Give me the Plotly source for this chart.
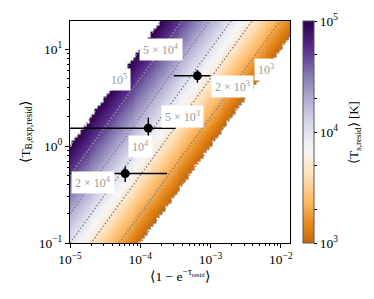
import numpy as np
import plotly.graph_objects as go

# ---------------- data ----------------
levels = [1e3, 2e3, 5e3, 1e4, 2e4, 5e4, 1e5]
level_labels = ["10<sup>3</sup>", "2 × 10<sup>3</sup>", "5 × 10<sup>3</sup>", "10<sup>4</sup>",
                "2 × 10<sup>4</sup>", "5 × 10<sup>4</sup>", "10<sup>5</sup>"]
label_y = [6.1, 4.1, 2.0, 1.0, 0.42, 9.8, 4.9]

pt_x = [6.5e-4, 1.3e-4, 6.1e-5]
pt_x_err = [3.5e-4, 1.9e-4, 1.8e-4]
pt_y = [5.3, 1.53, 0.52]
pt_y_err = [0.8, 0.43, 0.095]

Ts_min, Ts_max = 1e3, 1e5
x_lim = [1e-5, 1.35e-2]
y_lim = [0.1, 19.5]

x_ticks = [1e-5, 1e-4, 1e-3, 1e-2]
x_ticktext = ["10<sup>−5</sup>", "10<sup>−4</sup>", "10<sup>−3</sup>", "10<sup>−2</sup>"]
y_ticks = [0.1, 1, 10]
y_ticktext = ["10<sup>−1</sup>", "10<sup>0</sup>", "10<sup>1</sup>"]
cb_ticks = [1e3, 2e3, 5e3, 1e4, 2e4, 5e4, 1e5]
cb_ticktext = ["10<sup>3</sup>", "", "", "10<sup>4</sup>", "", "", "10<sup>5</sup>"]

# ------------- colour scale (PuOr, truncated on the orange end) -------------
puor = [(127, 59, 8), (179, 88, 6), (224, 130, 20), (253, 184, 99), (254, 224, 182),
        (247, 247, 247), (216, 218, 235), (178, 171, 210), (128, 115, 172), (84, 39, 136), (45, 0, 75)]
def puor_at(t):
    f = t * 10
    i = min(int(f), 9)
    r = f - i
    c = [puor[i][k] + (puor[i + 1][k] - puor[i][k]) * r for k in range(3)]
    return "rgb(%d,%d,%d)" % tuple(round(v) for v in c)
a0 = 0.14
cscale = [[p, puor_at(a0 + (1 - a0) * p)] for p in np.linspace(0, 1, 41)]

# ------------- grid -------------
gx = np.logspace(np.log10(x_lim[0]), np.log10(x_lim[1]), 76)
gy = np.logspace(np.log10(y_lim[0]), np.log10(y_lim[1]), 76)
Ts = gy[:, None] / gx[None, :]
z = np.log10(Ts)
z[(Ts < Ts_min) | (Ts > Ts_max)] = np.nan

FONT = "Liberation Serif, Times New Roman, serif"
TICK = 13.5
fig = go.Figure()
fig.add_trace(go.Heatmap(
    x=gx, y=gy, z=z, colorscale=cscale, zmin=np.log10(Ts_min), zmax=np.log10(Ts_max),
    hoverinfo="skip",
    colorbar=dict(x=1.059, xanchor="left", thickness=11, len=1.0, y=0.5, yanchor="middle",
                  ypad=0, xpad=0, outlinewidth=1, outlinecolor="#555555",
                  ticks="outside", ticklen=3, tickcolor="black",
                  tickvals=list(np.log10(cb_ticks)), ticktext=cb_ticktext,
                  tickfont=dict(family=FONT, size=TICK, color="black")),
))

xs_line = np.logspace(np.log10(x_lim[0]), np.log10(x_lim[1]), 300)
for T in levels:
    fig.add_trace(go.Scatter(x=xs_line, y=T * xs_line, mode="lines",
                             line=dict(color="#8a8a94", width=1.5, dash="1.5px,2px"),
                             hoverinfo="skip", showlegend=False))

fig.add_trace(go.Scatter(
    x=pt_x, y=pt_y, mode="markers",
    marker=dict(color="black", size=9),
    error_x=dict(type="data", array=pt_x_err,
                 arrayminus=[min(e, xv * 0.999) for e, xv in zip(pt_x_err, pt_x)],
                 color="black", thickness=1.5, width=0),
    error_y=dict(type="data", array=pt_y_err, color="black", thickness=1.5, width=0),
    showlegend=False, hoverinfo="skip"))

for T, lab, ly in zip(levels, level_labels, label_y):
    fig.add_annotation(x=np.log10(ly / T), y=np.log10(ly), xref="x", yref="y", text=lab,
                       showarrow=False, bgcolor="white", borderpad=3,
                       font=dict(family=FONT, size=12, color="#9a9a9a"))

fig.add_annotation(x=1.29, y=0.5, xref="paper", yref="paper", xanchor="center", yanchor="middle",
                   text="⟨T<sub>s,resid</sub>⟩ [K]", textangle=-90, showarrow=False,
                   font=dict(family=FONT, size=13, color="black"))

axis_common = dict(type="log", showgrid=False, zeroline=False, showline=True, mirror=True,
                   linecolor="black", linewidth=1, ticks="outside", ticklen=4, tickcolor="black",
                   tickfont=dict(family=FONT, size=TICK, color="black"))
x_minor = [m * 10.0 ** d for d in range(-5, -1) for m in range(2, 10)]
y_minor = [m * 10.0 ** d for d in range(-1, 2) for m in range(2, 10)]
fig.update_xaxes(**axis_common, range=[np.log10(x_lim[0]), np.log10(x_lim[1])],
                 tickvals=x_ticks, ticktext=x_ticktext,
                 minor=dict(tickvals=x_minor, ticks="outside", ticklen=2, tickcolor="black"),
                 title=dict(text="⟨1 − e<sup>−τ<sub>resid</sub></sup>⟩", standoff=3,
                            font=dict(family=FONT, size=13.5, color="black")))
fig.update_yaxes(**axis_common, range=[np.log10(y_lim[0]), np.log10(y_lim[1])],
                 tickvals=y_ticks, ticktext=y_ticktext,
                 minor=dict(tickvals=y_minor, ticks="outside", ticklen=2, tickcolor="black"),
                 title=dict(text="⟨T<sub>B,exp,resid</sub>⟩", standoff=5,
                            font=dict(family=FONT, size=13.5, color="black")))

# page body adds an 8px margin; size the figure so the plot area lands where the reference has it
fig.update_layout(width=358, height=283, margin=dict(l=62, r=76, t=13, b=48),
                  plot_bgcolor="white", paper_bgcolor="white", showlegend=False,
                  font=dict(family=FONT, size=12, color="black"))
fig.write_html("out.html")
